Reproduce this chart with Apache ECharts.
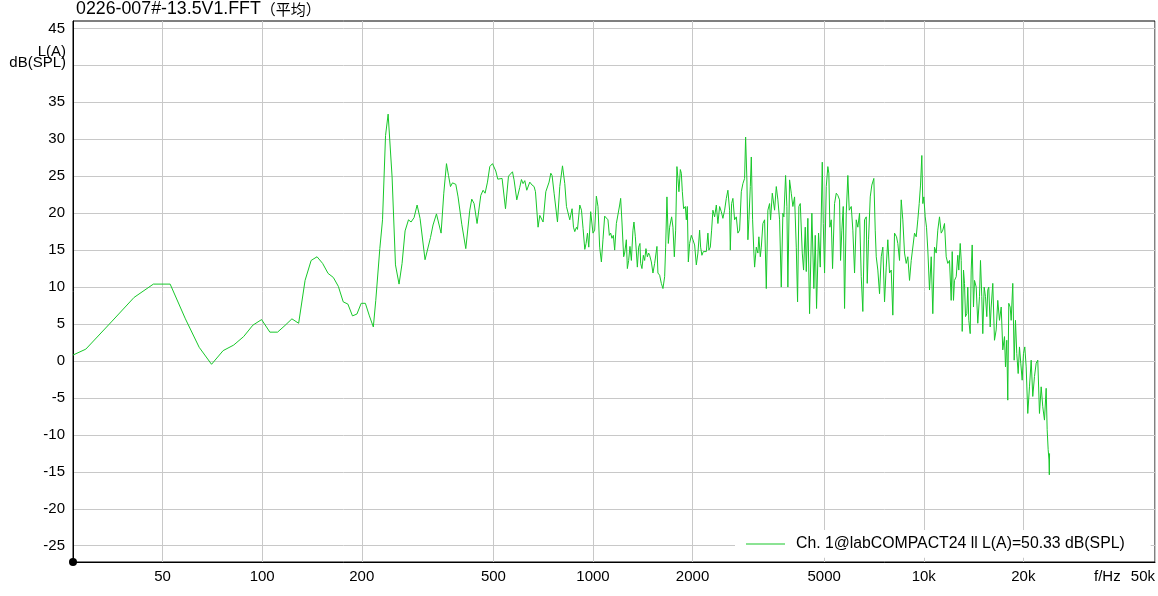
<!DOCTYPE html>
<html><head><meta charset="utf-8">
<script src="https://cdn.jsdelivr.net/npm/echarts@6/dist/echarts.min.js"></script>
<style>html,body{margin:0;padding:0;background:#fff}#c{width:1158px;height:596px}</style>
</head><body><div id="c"></div>
<script>
const chartTitleMain = '0226-007#-13.5V1.FFT';
const chartTitleSuffix = '（平均）';
const seriesName = 'Ch. 1@labCOMPACT24 ll L(A)=50.33 dB(SPL)';
const yUnit = 'L(A)\ndB(SPL)';
const xUnit = 'f/Hz';
const xRangeHz = [26.8, 50000];
const yRangeDb = [-27.2, 46];
const xTickHz = [50, 100, 200, 500, 1000, 2000, 5000, 10000, 20000, 50000];
const xTickLabels = ['50', '100', '200', '500', '1000', '2000', '5000', '10k', '20k', '50k'];
const yGridDb = [-25, -20, -15, -10, -5, 0, 5, 10, 15, 20, 25, 30, 35, 40, 45];
const yLabelDb = [-25, -20, -15, -10, -5, 0, 5, 10, 15, 20, 25, 30, 35, 45];

// [frequency Hz, level dB(SPL)]
const spectrumLow = [[26.8,0.8],[29.3,1.6],[35.2,5.4],[41.0,8.6],[46.9,10.4],[52.7,10.4],[58.6,5.7],[64.5,1.85],[70.3,-0.45],[76.2,1.4],[82.0,2.15],[87.9,3.3],[93.75,4.85],[99.6,5.6],[105.5,3.9],[111.3,3.9],[117.2,4.8],[123.0,5.7],[128.9,5.1],[134.8,10.9],[140.6,13.6],[146.5,14.1],[152.3,13.2],[158.2,11.85],[164.1,11.3],[169.9,10.1],[175.8,8.0],[181.6,7.7],[187.5,6.1],[193.4,6.35],[199.2,7.8],[205.1,7.8],[210.9,6.1],[216.8,4.6],[220.5,8.2],[226.8,15.2],[231.1,19.1],[236.0,30.5],[240.3,33.4],[247.0,24.9]];
const spectrumB = [[252.9,13.0],[259.3,10.4],[264.8,13.2],[270.4,17.6],[276.9,19.1],[281.9,18.8],[287.9,19.4],[294.0,21.1],[300.1,19.3],[310.7,13.7],[322.7,16.7],[328.5,18.4],[336.4,19.9],[341.1,19.7],[347.4,17.3],[354.0,22.7],[360.7,26.7],[365.8,25.1],[370.9,23.6],[376.1,24.1],[384.9,23.9],[391.0,22.2],[401.2,18.5],[406.0,18.6],[412.6,15.2],[417.5,15.1],[424.2,20.4],[430.1,21.9],[437.1,21.3],[446.3,18.6],[458.0,22.4],[465.4,23.1],[471.9,22.7],[479.8,24.2],[487.6,26.3],[496.8,26.7],[508.4,25.7],[515.5,24.6],[531.2,24.7],[543.9,20.6],[555.4,25.0],[571.0,25.6],[577.4,24.5],[588.4,21.8],[600.8,23.5]];
const spectrumC = [[607.9,24.55],[614.7,24.0],[622.1,24.4],[630.8,23.1],[644.1,24.2],[654.5,23.8],[663.7,23.6],[670.1,22.9],[674.8,23.1],[682.4,18.1],[690.6,19.7],[698.8,19.5],[706.6,18.8],[720.1,22.9],[728.6,23.1],[736.7,24.2],[745.6,25.4],[752.3,25.1],[762.9,22.7],[781.1,18.8],[793.7,23.6],[808.8,26.4],[814.4,26.5],[821.8,24.0],[831.6,20.9],[840.8,21.1],[850.9,19.1],[864.6,20.6],[873.1,18.1],[881.0,17.5],[891.5,18.1],[897.7,17.8],[912.3,21.1],[923.2,20.4],[933.5,17.9],[944.6,15.1],[953.2,15.9],[962.5,17.3],[971.2,15.4],[984.1,20.2],[993.0,20.0],[1000.0,17.3],[1011.9,17.7],[1023.9,22.3],[1035.4,20.9],[1047.7,15.4],[1060.2,13.4],[1072.0,16.4],[1084.8,19.6],[1100.0,19.7],[1109.9,19.1],[1120.8,17.0],[1131.0,17.3],[1141.3,16.6],[1152.5,17.0],[1163.0,15.0],[1176.8,18.6],[1189.9,18.4],[1204.1,21.1],[1212.5,22.0],[1223.5,18.8],[1238.1,14.1],[1246.7,14.6],[1261.5,16.4],[1270.3,12.5],[1281.9,13.6],[1293.6,15.5],[1306.3,13.6],[1320.9,17.7],[1330.1,18.8],[1343.1,16.8],[1361.9,12.7],[1374.3,15.4],[1386.8,15.9],[1393.6,13.2],[1406.2,12.5],[1420.0,14.3],[1432.9,13.6],[1445.9,15.2],[1460.0,14.1],[1473.3,14.6],[1483.6,14.3],[1501.3,13.4],[1518.0,11.9],[1536.1,13.2],[1560.9,15.5],[1571.7,11.9],[1590.5,11.6],[1609.4,10.5],[1627.4,9.8],[1646.8,11.4]];
const spectrumD = [[1658.4,15.4],[1673.4,22.2],[1689.7,15.9],[1705.1,18.1],[1729.0,19.5],[1744.7,18.1],[1761.7,14.1],[1777.9,17.7],[1793.9,26.3],[1806.4,24.7],[1819.0,22.9],[1836.9,25.9],[1849.7,25.4],[1862.6,22.9],[1879.4,20.6],[1901.7,20.9],[1915.1,19.1],[1928.4,20.9],[1942.0,13.4],[1959.6,15.9],[1982.9,17.0],[2005.1,16.4],[2029.0,15.7],[2053.1,13.0],[2076.0,14.6],[2100.8,17.7],[2115.5,15.4],[2134.6,14.3],[2155.6,14.8],[2175.2,14.6],[2201.0,14.8],[2225.6,17.3],[2241.1,15.0],[2263.2,15.4],[2283.7,17.7],[2304.5,20.4],[2331.9,19.5],[2359.6,21.1],[2386.0,18.6],[2414.4,20.9],[2443.1,20.2],[2470.4,19.3],[2499.9,20.4],[2529.6,22.0],[2557.8,23.1],[2588.4,20.4],[2601.1,15.0],[2624.6,21.3],[2648.5,22.0],[2680.0,19.1],[2711.9,19.5],[2742.2,17.3],[2774.9,17.7],[2807.9,22.9],[2839.3,24.0],[2873.1,24.7],[2893.4,30.3],[2919.5,24.5],[2939.7,16.4],[2960.3,19.1],[2989.4,23.6],[3010.2,27.6],[3037.6,19.1],[3065.2,14.6],[3080.1,12.7],[3116.7,15.4],[3151.5,14.6],[3173.5,16.8],[3204.8,14.1],[3227.2,15.4],[3263.2,18.6],[3302.1,19.1],[3341.3,9.8],[3378.6,20.4],[3418.9,21.3],[3442.8,19.1],[3483.9,22.7],[3539.9,20.4],[3582.0,23.6],[3622.0,21.8],[3665.2,19.1],[3708.8,10.0],[3750.2,20.0],[3776.6,19.5],[3821.7,25.1],[3856.2,20.9],[3882.9,10.0],[3929.3,24.5],[3976.1,22.7],[4020.5,20.9],[4068.4,22.2],[4116.7,15.4],[4154.1,8.0],[4191.8,20.9],[4233.0,21.3],[4292.4,14.6],[4331.2,12.3],[4382.6,18.1]];
const spectrumE = [[4413.3,12.1],[4462.6,19.3],[4515.9,6.4],[4588.6,20.0],[4653.2,9.8],[4698.3,17.0],[4741.2,7.1],[4807.6,17.3],[4865.0,12.7],[4933.3,26.9],[4967.7,18.6],[5012.7,11.9],[5072.2,23.6],[5128.9,26.3],[5164.7,25.4],[5201.1,18.1],[5252.0,19.1],[5299.7,12.5],[5373.9,21.3],[5437.8,22.7],[5498.5,22.4],[5564.1,21.8],[5603.0,13.6],[5653.7,17.7],[5709.3,20.9],[5761.1,7.1],[5829.5,20.0],[5894.6,25.1],[5952.5,20.4],[6036.0,20.9],[6103.4,17.7],[6176.2,11.9],[6249.5,19.1],[6319.3,18.1],[6394.8,20.0],[6470.9,11.4],[6543.2,6.7],[6621.2,19.1],[6699.8,19.5],[6746.5,10.5],[6807.9,16.4],[6889.1,22.2],[6965.9,23.8],[7063.9,24.7],[7132.5,17.7],[7182.5,14.1],[7262.7,12.3],[7349.5,9.1],[7437.0,14.1],[7520.0,15.4],[7609.7,8.0],[7700.1,12.7],[7786.1,16.4],[7879.0,11.9],[7972.8,12.3],[8061.8,6.2],[8157.9,17.3],[8272.2,16.8],[8347.0,15.9],[8446.8,13.6],[8547.3,21.8],[8642.8,19.1],[8745.8,14.6],[8849.7,13.2],[8948.5,14.1],[9055.4,10.9],[9163.2,13.6],[9265.5,13.4],[9376.0,17.3],[9487.3,16.8],[9593.3,19.1],[9687.5,21.3],[9775.9,23.8],[9864.3,27.8],[9933.2,21.3],[10003,22.2],[10100,19.5],[10192,18.1],[10285,15.0],[10407,9.6],[10531,14.1],[10648,6.4],[10775,15.4],[10903,14.6],[11025,17.7],[11157,19.5],[11290,17.3],[11416,17.7],[11552,18.6],[11689,14.1],[11820,13.2],[11961,13.6],[12103,8.2]];
const spectrumF = [[12188,14.8],[12298,8.2],[12384,10.9],[12532,11.4],[12672,14.3],[12760,12.3],[12886,15.9],[12976,13.6],[13067,4.0],[13185,12.3],[13277,10.5],[13371,6.0],[13491,6.4],[13585,10.0],[13680,5.5],[13814,3.7],[13911,12.3],[14008,15.7],[14135,7.3],[14234,10.9],[14403,10.0],[14564,5.1],[14737,8.7],[14840,13.6],[14974,8.7],[15079,3.7],[15226,10.0],[15366,8.7],[15505,6.0],[15612,9.6],[15721,10.0],[15876,4.6],[15987,7.3],[16166,10.5],[16358,2.8],[16553,4.2],[16737,8.2],[16938,5.5],[17140,7.3],[17331,1.5],[17538,3.3],[17661,-0.8],[17820,2.8],[17944,-5.3],[18069,7.8],[18247,7.3],[18374,5.5],[18579,10.5],[18761,0.1],[18933,5.5],[19104,1.0],[19291,-1.7],[19467,1.9],[19644,-0.3],[19837,-2.6],[20016,1.0],[20199,1.9],[20396,-0.8],[20623,-7.1],[20870,-3.5],[21118,0.1],[21354,-4.8],[21609,-2.1],[21866,-0.3],[22110,0.1],[22374,-7.1],[22640,-3.5],[22893,-6.2],[23166,-8.0],[23441,-3.7],[23605,-9.3],[23770,-12.0],[23900,-13.4],[23960,-15.4],[24000,-12.5]];

const spectrum = [].concat(spectrumLow, spectrumB, spectrumC, spectrumD, spectrumE, spectrumF);
const lineData = spectrum.map(p => [Math.log10(p[0]), p[1]]);
const xTickLog = xTickHz.map(h => Math.log10(h));
const FONT = "'Liberation Sans', Arial, 'Noto Sans CJK SC', sans-serif";

const chart = echarts.init(document.getElementById('c'), null, {renderer: 'canvas'});
chart.setOption({
  animation: false,
  backgroundColor: '#fff',
  title: {
    text: '{a|' + chartTitleMain + '}{b|' + chartTitleSuffix + '}', left: 76, top: 0, padding: 0,
    textStyle: {
      fontFamily: FONT, fontSize: 17, fontWeight: 'normal', color: '#000',
      rich: {
        a: {fontFamily: FONT, fontSize: 17.8, color: '#000'},
        b: {fontFamily: "'Noto Sans CJK SC', sans-serif", fontSize: 15, color: '#000'}
      }
    }
  },
  legend: {
    left: 735, top: 530, padding: [6, 26, 6, 11],
    backgroundColor: '#fff', icon: 'rect', itemWidth: 39, itemHeight: 1,
    textStyle: {fontFamily: FONT, fontSize: 15.8, color: '#000', padding: [0, 0, 0, 6]},
    data: [seriesName]
  },
  grid: {left: 73, right: 2, top: 21, bottom: 34, show: true, borderColor: '#000', borderWidth: 1, backgroundColor: '#fff', containLabel: false},
  xAxis: {
    type: 'value', min: Math.log10(xRangeHz[0]), max: Math.log10(xRangeHz[1]),
    name: xUnit, nameLocation: 'end', nameGap: -61, nameMoveOverlap: false,
    nameTextStyle: {fontFamily: FONT, fontSize: 15, color: '#000', align: 'left', verticalAlign: 'top', padding: [7, 0, 0, 0]},
    axisLine: {show: true, onZero: false, lineStyle: {color: '#000', width: 1}, symbol: ['circle', 'none'], symbolSize: [8, 8]},
    axisTick: {show: false, customValues: xTickLog},
    axisLabel: {
      customValues: xTickLog, margin: 7, color: '#000', fontFamily: FONT, fontSize: 15, alignMaxLabel: 'right',
      formatter: v => { const i = xTickLog.findIndex(t => Math.abs(t - v) < 1e-6); return i >= 0 ? xTickLabels[i] : ''; }
    },
    splitLine: {show: true, lineStyle: {color: '#c8c8c8', width: 1}}
  },
  yAxis: {
    type: 'value', min: yRangeDb[0], max: yRangeDb[1],
    axisLine: {show: true, onZero: false, lineStyle: {color: '#000', width: 1}},
    axisTick: {show: false, customValues: yGridDb},
    axisLabel: {customValues: yLabelDb, margin: 8, color: '#000', fontFamily: FONT, fontSize: 15},
    splitLine: {show: true, lineStyle: {color: '#c8c8c8', width: 1}}
  },
  graphic: [{
    type: 'text', x: 66, y: 46, z: 10,
    style: {text: yUnit, fill: '#000', fontFamily: FONT, fontSize: 15, lineHeight: 11.5, align: 'right', verticalAlign: 'top'}
  }],
  series: [{
    name: seriesName, type: 'line', data: lineData,
    showSymbol: false, symbol: 'none', clip: true,
    color: '#18c82a', lineStyle: {color: '#18c82a', width: 1}
  }]
});
</script></body></html>
